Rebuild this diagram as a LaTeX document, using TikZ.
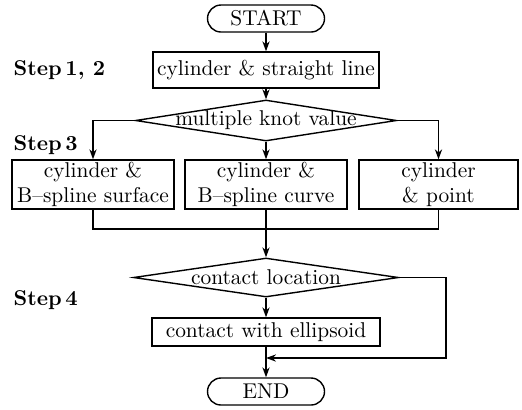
\documentclass[tikz,border=0pt]{standalone}
\usetikzlibrary{shapes.geometric,shapes.misc,arrows.meta}
\begin{document}
\begin{tikzpicture}[x=0.5pt,y=-0.5pt,line width=0.7pt,
  every node/.style={font=\fontsize{10.7}{12.4}\selectfont},
  box/.style={draw,rectangle,inner sep=0pt,align=center},
  term/.style={draw,rounded rectangle,inner sep=0pt,minimum width=58.5pt,minimum height=13.5pt},
  dec/.style={draw,diamond,inner sep=0pt,aspect=1},
  steplbl/.style={anchor=west,inner sep=0pt,font=\fontsize{10.7}{12.4}\selectfont\bfseries},
  flow/.style={-{Stealth[length=5pt,width=3.6pt]}}]
\useasboundingbox (0,0) rectangle (522,409);
\node[term] (start) at (266,18.5) {START};
\node[box,minimum width=113pt,minimum height=18pt] (s12) at (266,70) {cylinder \& straight line};
\node[dec,minimum width=130.5pt,minimum height=20.5pt,label={center:multiple knot value}] (knot) at (266,120.5) {};
\node[box,minimum width=81pt,minimum height=24.5pt] (b1) at (93,184.5) {cylinder \&\\B--spline surface};
\node[box,minimum width=81pt,minimum height=24.5pt] (b2) at (266,184.5) {cylinder \&\\B--spline curve};
\node[box,minimum width=79.5pt,minimum height=24.5pt] (b3) at (438.5,184.5) {cylinder\\\& point};
\node[dec,minimum width=132.5pt,minimum height=19.5pt,label={center:contact location}] (loc) at (266,277.5) {};
\node[box,minimum width=114pt,minimum height=14pt] (ell) at (266,332) {contact with ellipsoid};
\node[term] (stop) at (266,391.5) {END};
\node[steplbl] (st12) at (13,70) {Step\,1, 2};
\node[steplbl] (st3) at (13,145) {Step\,3};
\node[steplbl] (st4) at (13,300) {Step\,4};
\coordinate (m) at (266,229);
\coordinate (r) at (446,358);
\coordinate (j) at (266,358);
\draw[flow] (start.south) -- (s12.north);
\draw[flow] (s12.south) -- (knot.north);
\draw[flow] (knot.west) -| (b1.north);
\draw[flow] (knot.east) -| (b3.north);
\draw[flow] (knot.south) -- (b2.north);
\draw (b1.south) |- (m) -| (b3.south);
\draw[flow] (b2.south) -- (loc.north);
\draw[flow] (loc.south) -- (ell.north);
\draw[flow] (loc.east) -| (r) -- (j);
\draw[flow] (ell.south) -- (stop.north);
\end{tikzpicture}
\end{document}
